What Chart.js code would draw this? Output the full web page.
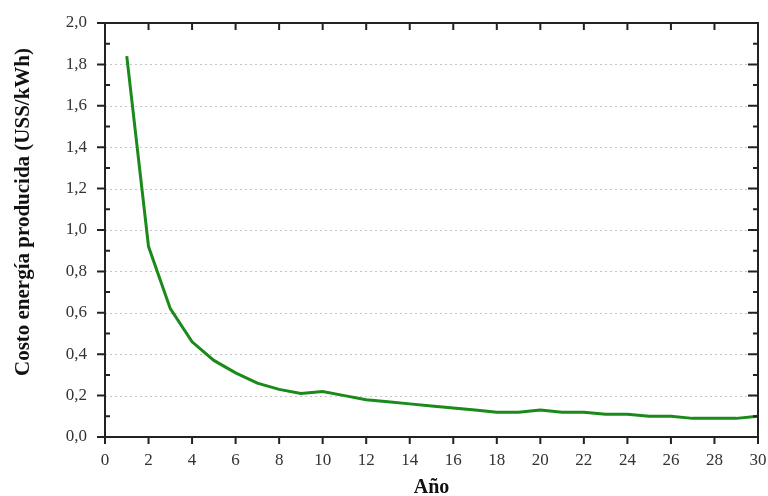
<!DOCTYPE html>
<html>
<head>
<meta charset="utf-8">
<script src="https://cdn.jsdelivr.net/npm/chart.js@4"></script>
<style>
  html, body { margin: 0; padding: 0; background: #fff; }
  #wrap { width: 768px; height: 496px; }
</style>
</head>
<body>
<div id="wrap"><canvas id="chart"></canvas></div>
<script>
const years = [1, 2, 3, 4, 5, 6, 7, 8, 9, 10, 11, 12, 13, 14, 15,
  16, 17, 18, 19, 20, 21, 22, 23, 24, 25, 26, 27, 28, 29, 30];
const costs = [1.84, 0.92, 0.62, 0.46, 0.37, 0.31, 0.26, 0.23, 0.21, 0.22,
  0.20, 0.18, 0.17, 0.16, 0.15, 0.14, 0.13, 0.12, 0.12, 0.13,
  0.12, 0.12, 0.11, 0.11, 0.10, 0.10, 0.09, 0.09, 0.09, 0.10];
const xTicks = [0, 2, 4, 6, 8, 10, 12, 14, 16, 18, 20, 22, 24, 26, 28, 30];
const yTicks = [0, 0.2, 0.4, 0.6, 0.8, 1.0, 1.2, 1.4, 1.6, 1.8, 2.0];
const yTitle = "Costo energía producida (USS/kWh)";

const axisColor = "#222";
const serif = "'Liberation Serif', 'Times New Roman', serif";

// frame, ticks and dashed grid, drawn by hand like the original plot
const framePlugin = {
  id: "frame",
  beforeDatasetsDraw(chart) {
    const { ctx, chartArea: a, scales: { y } } = chart;
    ctx.save();
    ctx.strokeStyle = "#c4c4c4";
    ctx.lineWidth = 1;
    ctx.setLineDash([2, 3]);
    yTicks.slice(1, -1).forEach(v => {
      const py = Math.round(y.getPixelForValue(v)) + 0.5;
      ctx.beginPath();
      ctx.moveTo(a.left, py);
      ctx.lineTo(a.right, py);
      ctx.stroke();
    });
    ctx.restore();
  },
  afterDatasetsDraw(chart) {
    const { ctx, chartArea: a, scales: { x, y } } = chart;
    ctx.save();
    ctx.strokeStyle = axisColor;
    ctx.lineWidth = 2;
    ctx.strokeRect(a.left, a.top, a.right - a.left, a.bottom - a.top);
    ctx.beginPath();
    yTicks.forEach(v => {
      const py = y.getPixelForValue(v);
      ctx.moveTo(a.left - 8, py); ctx.lineTo(a.left, py);
      ctx.moveTo(a.right, py); ctx.lineTo(a.right - 10, py);
    });
    for (let i = 0; i < yTicks.length - 1; i++) {
      const py = y.getPixelForValue((yTicks[i] + yTicks[i + 1]) / 2);
      ctx.moveTo(a.left, py); ctx.lineTo(a.left + 5, py);
      ctx.moveTo(a.right, py); ctx.lineTo(a.right - 5, py);
    }
    xTicks.forEach(v => {
      const px = x.getPixelForValue(v);
      ctx.moveTo(px, a.bottom); ctx.lineTo(px, a.bottom + 7);
      ctx.moveTo(px, a.top); ctx.lineTo(px, a.top + 7);
    });
    ctx.stroke();

    // y title sits a little above the axis centre in the original
    ctx.translate(24, 212);
    ctx.rotate(-Math.PI / 2);
    ctx.fillStyle = "#111";
    ctx.font = "bold 21px " + serif;
    ctx.textAlign = "center";
    ctx.textBaseline = "middle";
    ctx.fillText(yTitle, 0, 0);
    ctx.restore();
  }
};

new Chart(document.getElementById("chart"), {
  type: "line",
  data: {
    datasets: [{
      data: years.map((yr, i) => ({ x: yr, y: costs[i] })),
      borderColor: "#1a8a1a",
      borderWidth: 3,
      pointRadius: 0,
      tension: 0,
      fill: false
    }]
  },
  options: {
    responsive: true,
    maintainAspectRatio: false,
    animation: false,
    layout: { padding: { left: 0, right: 0, top: 23, bottom: 0 } },
    plugins: { legend: { display: false }, tooltip: { enabled: false } },
    scales: {
      x: {
        type: "linear",
        min: 0,
        max: 30,
        afterFit(scale) { scale.height = 59; scale.paddingRight = 10; },
        afterBuildTicks(scale) { scale.ticks = xTicks.map(v => ({ value: v })); },
        grid: { display: false },
        border: { display: false },
        ticks: {
          padding: 5,
          color: "#333",
          font: { family: serif, size: 17 },
          maxRotation: 0,
          autoSkip: false
        },
        title: {
          display: true,
          text: "Año",
          color: "#111",
          font: { family: serif, size: 20, weight: "bold", lineHeight: 0.8 },
          padding: { top: 0, bottom: 0 }
        }
      },
      y: {
        min: 0,
        max: 2,
        afterFit(scale) { scale.width = 105; },
        afterBuildTicks(scale) { scale.ticks = yTicks.map(v => ({ value: v })); },
        grid: { display: false },
        border: { display: false },
        ticks: {
          padding: 10,
          color: "#333",
          font: { family: serif, size: 17 },
          callback: v => v.toFixed(1).replace(".", ",")
        },
        title: { display: false }
      }
    }
  },
  plugins: [framePlugin]
});
</script>
</body>
</html>
